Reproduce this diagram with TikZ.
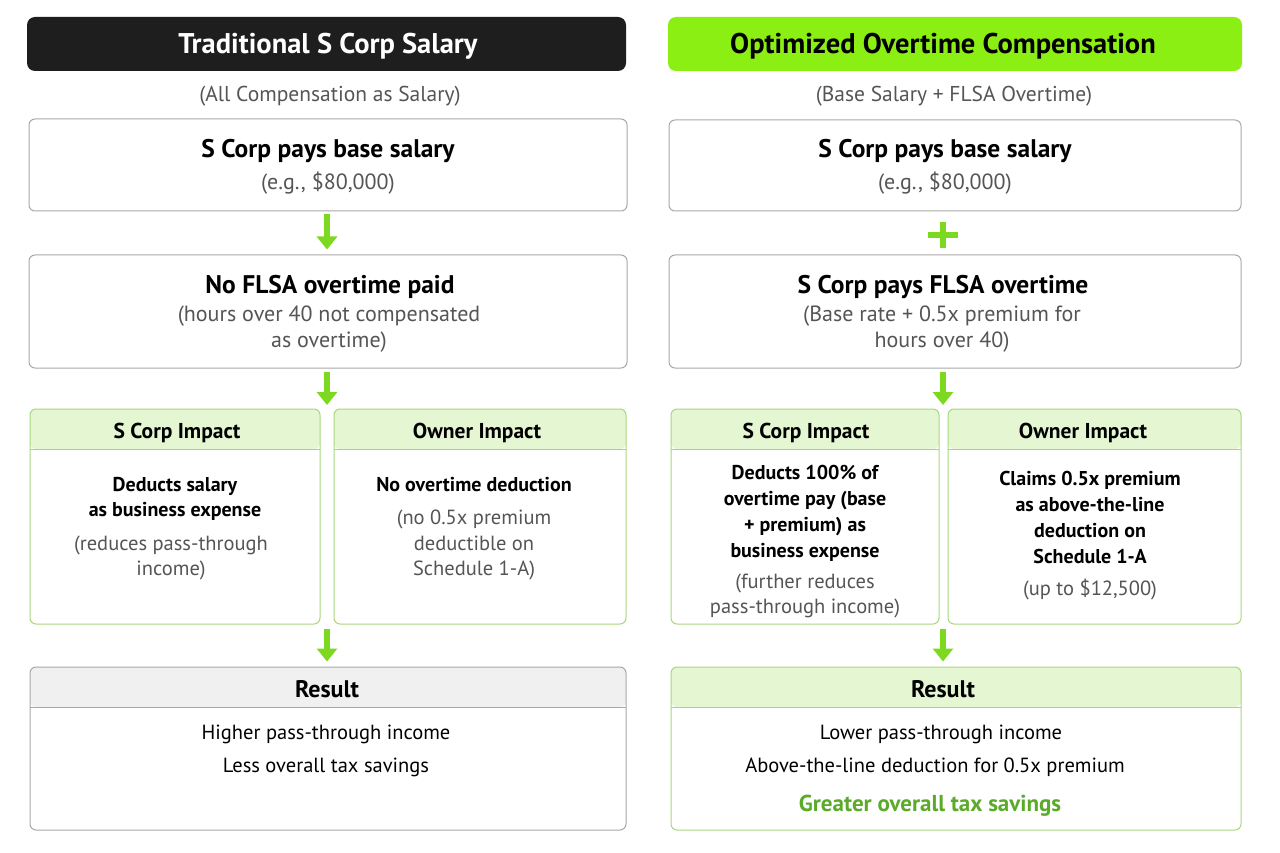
\documentclass[tikz,border=0pt]{standalone}
\usepackage{fontspec}
\setmainfont{PT Sans}
\usetikzlibrary{arrows.meta}
\definecolor{tgreen}{HTML}{8CEF14}
\definecolor{agreen}{HTML}{7DD820}
\definecolor{hgreen}{HTML}{E4F6D2}
\definecolor{bgreen}{HTML}{A9D77E}
\definecolor{hgray}{HTML}{F0F0F0}
\definecolor{bgray}{HTML}{A8A8A8}
\definecolor{tgray}{HTML}{555555}
\definecolor{dgreen}{HTML}{5BAA2A}
\definecolor{titleblack}{HTML}{1E1E1E}
\newcommand\fs[2]{\fontsize{#1}{#2}\selectfont}
\newcommand\txt[5]{\node[#4, anchor=base, inner sep=0] (#1) at (#2,#3) {#5};}
\tikzset{
  titlebox/.style={rounded corners=8pt, inner sep=0, minimum height=54pt},
  card/.style={draw=bgray, line width=1pt, rounded corners=6pt, fill=white, inner sep=0},
  hdr/.style 2 args={path picture={
     \fill[#1] (path picture bounding box.north west) rectangle ([yshift=-40pt]path picture bounding box.north east);
     \draw[#2, line width=1pt] ([yshift=-40pt]path picture bounding box.north west) -- ([yshift=-40pt]path picture bounding box.north east);}},
  impact/.style={card, draw=bgreen, hdr={hgreen}{bgreen}},
  resgray/.style={card, hdr={hgray}{bgray}},
  resgreen/.style={card, draw=bgreen, hdr={hgreen}{bgreen}},
  arr/.style={draw=agreen, line width=6pt, -{Triangle[width=20pt,length=13pt]}},
  ttl/.style={font=\bfseries\fs{28.5}{33}},
  sub/.style={font=\fs{21.5}{25}, text=tgray},
  head/.style={font=\bfseries\fs{25.5}{30}},
  gr/.style={font=\fs{22}{26}, text=tgray},
  ih/.style={font=\bfseries\fs{21.5}{25}},
  ib/.style={font=\bfseries\fs{20}{24}},
  ig/.style={font=\fs{20.5}{24}, text=tgray},
  rh/.style={font=\bfseries\fs{24}{28}},
  rl/.style={font=\fs{20.5}{24}},
}
\begin{document}
\begin{tikzpicture}[x=1pt,y=-1pt]
\useasboundingbox[fill=white] (0,0) rectangle (1280,853);
\coordinate (laxis) at (327,0);
\coordinate (raxis) at (943,0);
% ---------- left column ----------
\node[titlebox, fill=titleblack, minimum width=599pt] (ltitle) at (326.5,44) {};
\txt{ltt}{328}{54}{ttl, text=white}{Traditional S Corp Salary}
\txt{lsub}{330}{102}{sub}{(All Compensation as Salary)}
\node[card, minimum width=598pt, minimum height=92pt] (lb1) at (328,165) {};
\txt{lb1a}{328}{158}{head}{S Corp pays base salary}
\txt{lb1b}{328}{190}{gr}{(e.g., \$80,000)}
\node[card, minimum width=598pt, minimum height=113pt] (lb2) at (328,311.5) {};
\txt{lb2a}{330}{294}{head}{No FLSA overtime paid}
\txt{lb2b}{329}{321}{gr}{(hours over 40 not compensated}
\txt{lb2c}{329}{347}{gr}{as overtime)}
\node[impact, minimum width=290pt, minimum height=215pt] (lil) at (175,516.5) {};
\node[impact, minimum width=292pt, minimum height=215pt] (lir) at (480,516.5) {};
\coordinate (ltop) at (327,409);
\coordinate (lbot) at (327,624);
\txt{lilh}{177}{438}{ih}{S Corp Impact}
\txt{lil1}{175}{491}{ib}{Deducts salary}
\txt{lil2}{175}{516}{ib}{as business expense}
\txt{lil3}{171}{550}{ig}{(reduces pass-through}
\txt{lil4}{171}{575}{ig}{income)}
\txt{lirh}{477}{438}{ih}{Owner Impact}
\txt{lir1}{474}{491}{ib}{No overtime deduction}
\txt{lir2}{474}{524}{ig}{(no 0.5x premium}
\txt{lir3}{474}{550}{ig}{deductible on}
\txt{lir4}{474}{575}{ig}{Schedule 1-A)}
\node[resgray, minimum width=596pt, minimum height=163pt] (lres) at (328,748.5) {};
\txt{lresh}{327}{697}{rh}{Result}
\txt{lres1}{326}{739}{rl}{Higher pass-through income}
\txt{lres2}{326}{772}{rl}{Less overall tax savings}
\draw[arr, shorten <=3pt, shorten >=5pt] (lb1.south -| laxis) -- (lb2.north -| laxis);
\draw[arr, shorten <=3pt, shorten >=4pt] (lb2.south -| laxis) -- (ltop);
\draw[arr, shorten <=5pt, shorten >=5pt] (lbot) -- (lres.north -| laxis);
% ---------- right column ----------
\node[titlebox, fill=tgreen, minimum width=574pt] (rtitle) at (955,44) {};
\txt{rtt}{943}{54}{ttl, text=black}{Optimized Overtime Compensation}
\txt{rsub}{954}{102}{sub}{(Base Salary + FLSA Overtime)}
\node[card, minimum width=572pt, minimum height=91pt] (rb1) at (955,165.5) {};
\txt{rb1a}{945}{158}{head}{S Corp pays base salary}
\txt{rb1b}{945}{190}{gr}{(e.g., \$80,000)}
\node[card, minimum width=572pt, minimum height=113pt] (rb2) at (955,311.5) {};
\txt{rb2a}{943}{294}{head}{S Corp pays FLSA overtime}
\txt{rb2b}{942}{321}{gr}{(Base rate + 0.5x premium for}
\txt{rb2c}{942}{347}{gr}{hours over 40)}
\coordinate (rplus) at (943,235);
\draw[draw=agreen, line width=6pt] ([yshift=13pt]rplus) -- ([yshift=-13pt]rplus);
\draw[draw=agreen, line width=6pt] ([xshift=-15pt]rplus) -- ([xshift=15pt]rplus);
\node[impact, minimum width=268pt, minimum height=215pt] (ril) at (805,516.5) {};
\node[impact, minimum width=293pt, minimum height=215pt] (rir) at (1094.5,516.5) {};
\coordinate (rtop) at (943,409);
\coordinate (rbot) at (943,624);
\txt{rilh}{806}{438}{ih}{S Corp Impact}
\txt{ril1}{805}{479}{ib}{Deducts 100\% of}
\txt{ril2}{805}{505}{ib}{overtime pay (base}
\txt{ril3}{805}{531}{ib}{+ premium) as}
\txt{ril4}{805}{557}{ib}{business expense}
\txt{ril5}{805}{588}{ig}{(further reduces}
\txt{ril6}{805}{613}{ig}{pass-through income)}
\txt{rirh}{1083}{438}{ih}{Owner Impact}
\txt{rir1}{1090}{485}{ib}{Claims 0.5x premium}
\txt{rir2}{1090}{511}{ib}{as above-the-line}
\txt{rir3}{1090}{537}{ib}{deduction on}
\txt{rir4}{1090}{563}{ib}{Schedule 1-A}
\txt{rir5}{1090}{595}{ig}{(up to \$12,500)}
\node[resgreen, minimum width=570pt, minimum height=163pt] (rres) at (956,748.5) {};
\txt{rresh}{943}{697}{rh}{Result}
\txt{rres1}{941}{739}{rl}{Lower pass-through income}
\txt{rres2}{935}{772}{rl}{Above-the-line deduction for 0.5x premium}
\txt{rres3}{930}{811}{font=\bfseries\fs{23}{27}, text=dgreen}{Greater overall tax savings}
\draw[arr, shorten <=3pt, shorten >=4pt] (rb2.south -| raxis) -- (rtop);
\draw[arr, shorten <=5pt, shorten >=5pt] (rbot) -- (rres.north -| raxis);
\end{tikzpicture}
\end{document}
